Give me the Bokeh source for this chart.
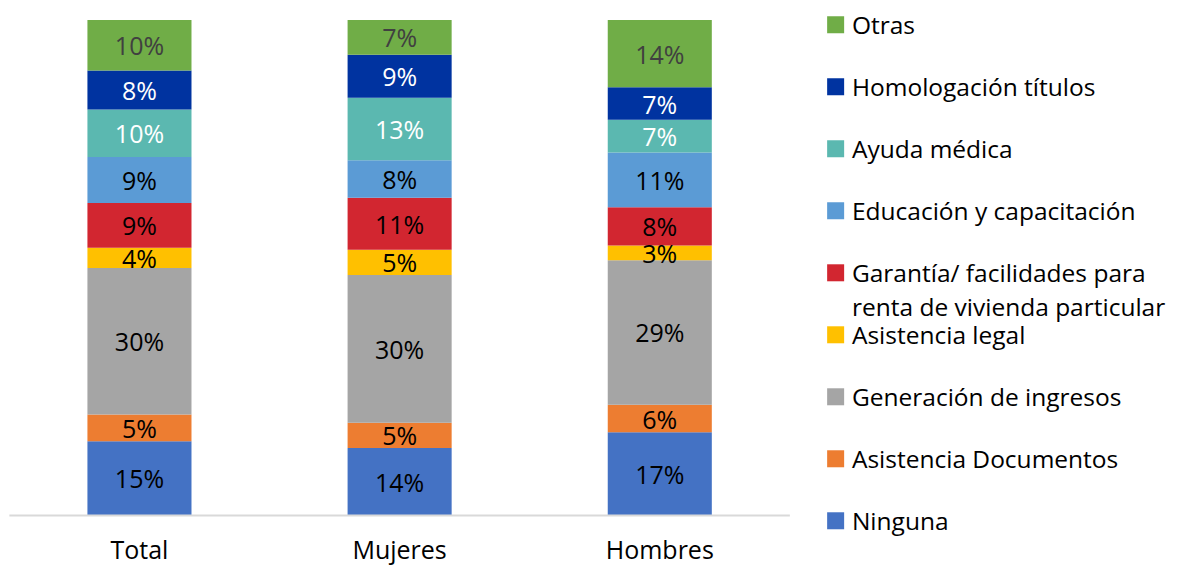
from bokeh.plotting import figure
from bokeh.models import Range1d
from bokeh.core.properties import value
from bokeh.embed import file_html
from bokeh.resources import INLINE

# ---------------- data ----------------
categories = ["Total", "Mujeres", "Hombres"]

series = [
    "Ninguna",
    "Asistencia Documentos",
    "Generación de ingresos",
    "Asistencia legal",
    "Garantía/ facilidades para\nrenta de vivienda particular",
    "Educación y capacitación",
    "Ayuda médica",
    "Homologación títulos",
    "Otras",
]

# percentage per series (bottom -> top), one list per category
total_vals = [15.0, 5.4, 29.6, 4.1, 9.0, 9.3, 9.6, 7.9, 10.2]
mujeres_vals = [13.6, 5.1, 29.8, 5.1, 10.5, 7.6, 12.6, 8.7, 7.0]
hombres_vals = [16.8, 5.6, 29.2, 3.0, 7.7, 11.1, 6.6, 6.6, 13.6]

colors = ["#4472C4", "#ED7D31", "#A5A5A5", "#FFC000", "#D22630",
          "#5B9BD5", "#5BB8B0", "#0033A0", "#70AD47"]
label_colors = ["#000000", "#000000", "#000000", "#000000", "#000000",
                "#000000", "#FFFFFF", "#FFFFFF", "#404040"]

FONT = "Open Sans"

# ---------------- layout constants (pixels inside the figure) ----------------
W, H = 1176, 565
SX, SY = W / 1192, H / 581
CAT_W = 263.7 * SX           # width of one category slot
FRAME_LEFT = 9 * SX          # left end of the category axis
TOP_PX, BASE_PX = 20 * SY, 529.5 * SY   # pixel rows of 100% and 0%
PX_PER_UNIT = (BASE_PX - TOP_PX) / 100.0
LABEL_PX = 548               # centre row of category labels

x_range = Range1d(-FRAME_LEFT / CAT_W, (W - FRAME_LEFT) / CAT_W)
y_range = Range1d(-(H - BASE_PX) / PX_PER_UNIT, 100 + TOP_PX / PX_PER_UNIT)

p = figure(x_range=x_range, y_range=y_range, width=W, height=H,
           min_border=0, x_axis_location=None, y_axis_location=None,
           output_backend="svg", toolbar_location=None)
p.extra_x_ranges = {"px": Range1d(0, W)}
p.extra_y_ranges = {"px": Range1d(H, 0)}
p.grid.visible = False
p.outline_line_color = None

values_by_cat = [total_vals, mujeres_vals, hombres_vals]
xs = [i + 0.5 for i in range(len(categories))]

# ---------------- stacked bars + labels ----------------
bx, bb, bt, bc = [], [], [], []
lx, ly, lt, lc = [], [], [], []
for ci in range(len(categories)):
    vals = values_by_cat[ci]
    s = sum(vals)
    bottom = 0.0
    for i, v in enumerate(vals):
        h = v / s * 100
        bx.append(xs[ci]); bb.append(bottom); bt.append(bottom + h)
        bc.append(colors[i])
        lx.append(xs[ci]); ly.append(bottom + h / 2)
        lt.append(f"{int(v + 0.5)}%"); lc.append(label_colors[i])
        bottom += h
p.vbar(x=bx, bottom=bb, top=bt, width=0.4, fill_color=bc, line_color=None)
p.text(x=lx, y=ly, text=lt, text_color=lc, text_align="center",
       text_baseline="middle", text_font=value(FONT), text_font_size="25px")

# category axis line and labels
p.segment(x0=[0], y0=[0], x1=[len(categories)], y1=[0],
          line_color="#D9D9D9", line_width=2)
label_y = (BASE_PX - LABEL_PX) / PX_PER_UNIT
p.text(x=xs, y=[label_y] * len(xs), text=categories, text_align="center",
       text_baseline="middle", text_font=value(FONT), text_font_size="25px",
       text_color="#000000")

# ---------------- legend ----------------
top_y, step = 25 * SY, 63.75 * SY
sq_cx, sq_size, text_x, line_gap = 846.5 * SX, 17, 863 * SX, 35 * SY
order = list(range(len(series)))[::-1]
sq_x, sq_y, sq_c = [], [], []
tx, ty, tt = [], [], []
for j, i in enumerate(order):
    yc = top_y + j * step
    sq_x.append(sq_cx); sq_y.append(yc); sq_c.append(colors[i])
    for li, line in enumerate(series[i].split("\n")):
        tx.append(text_x); ty.append(yc + li * line_gap); tt.append(line)
p.rect(x=sq_x, y=sq_y, width=sq_size, height=sq_size, fill_color=sq_c,
       line_color=None, x_range_name="px", y_range_name="px")
p.text(x=tx, y=ty, text=tt, text_align="left", text_baseline="middle",
       text_font=value(FONT), text_font_size="24.5px", text_color="#000000",
       x_range_name="px", y_range_name="px")

open("out.html", "w").write(file_html(p, INLINE))
